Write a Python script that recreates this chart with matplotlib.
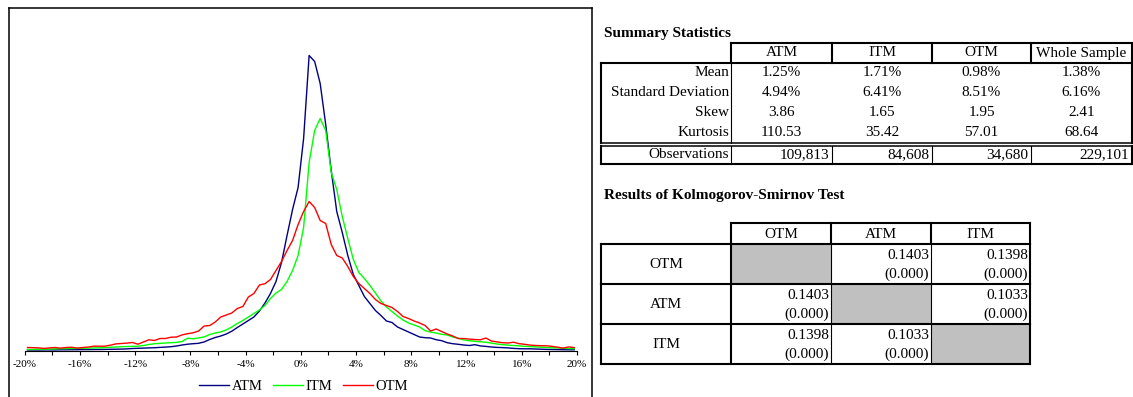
import numpy as np
import matplotlib
matplotlib.use("Agg")
import matplotlib.pyplot as plt
from matplotlib.lines import Line2D
from matplotlib.patches import Rectangle

plt.rcParams['font.family'] = ['Liberation Serif', 'DejaVu Serif']

W, H = 1133, 397

# return bins (bin centres, % return), 0.4% wide
ret_bins = np.round(np.arange(-19.8, 19.81, 0.4), 1)

# relative frequency per bin
atm = [0.5, 0.5, 0.5, 0.6, 0.6, 0.6, 0.7, 0.7, 0.8, 0.8,
       0.9, 0.9, 1.0, 1.0, 1.1, 1.2, 1.3, 1.4, 1.6, 2.0,
       2.2, 2.4, 2.6, 2.8, 3.1, 3.4, 3.8, 4.5, 5.5, 6.3,
       6.8, 7.2, 8.6, 11.0, 13.0, 14.5, 16.5, 19.3, 23.0, 26.5,
       30.0, 33.5, 39.5, 47.5, 57.0, 69.0, 88, 115, 141, 163,
       212, 295, 289, 267, 226, 180, 139, 118, 95, 76,
       65, 54, 47, 40, 35, 29.5, 28, 23.5, 21, 18.5,
       16, 13.5, 12.8, 12.5, 10.8, 9.8, 7.8, 6.8, 6.2, 5.5,
       5.0, 5.8, 4.6, 4.1, 3.5, 3.1, 2.9, 2.6, 2.1, 1.8,
       1.7, 1.7, 1.5, 1.3, 1.1, 1.0, 0.9, 0.8, 0.7, 0.7]
itm = [1.0, 1.1, 1.2, 1.3, 1.4, 1.7, 1.8, 1.9, 2.0, 2.1,
       2.2, 2.4, 2.6, 2.7, 2.9, 3.2, 3.5, 3.8, 4.0, 4.2,
       4.3, 5.0, 6.0, 6.8, 7.1, 7.5, 7.8, 8.1, 9.0, 12.3,
       11.7, 12.6, 13.6, 16.0, 17.5, 18.6, 20.6, 23.5, 27.0, 30.0,
       33.5, 37.0, 40.5, 45.0, 52.0, 57.5, 61.0, 69.0, 80.0, 95.0,
       123, 188, 220, 232, 220, 178, 161, 134, 112, 91,
       78, 72, 65, 57.5, 49.5, 43.5, 39, 34.5, 30.5, 27.5,
       25.5, 23.5, 19.8, 18.5, 17.5, 16.2, 15.5, 13.5, 12.2, 10.6,
       9.8, 9.2, 8.7, 8.3, 7.4, 6.5, 5.8, 5.4, 5.0, 4.6,
       4.2, 3.9, 3.6, 3.3, 3.0, 2.7, 2.5, 2.2, 2.0, 1.8]
otm = [3.0, 2.8, 2.6, 2.1, 2.6, 3.0, 2.4, 3.0, 3.2, 2.4,
       3.0, 3.4, 4.3, 4.3, 4.3, 5.3, 6.6, 7.0, 7.4, 8.0,
       6.3, 8.5, 10.7, 10.0, 12.0, 12.0, 13.3, 13.5, 15.6, 16.8,
       17.7, 19.5, 24.5, 25.0, 28.5, 33.5, 35.5, 37.5, 42.0, 44.0,
       53.5, 57.0, 65.5, 66.8, 71.0, 80.0, 89.0, 100, 110, 126,
       139, 149, 143, 130, 127, 106, 95, 92.5, 84, 74,
       67, 62, 57, 51, 47, 45, 43, 39, 34, 32,
       29.5, 27.5, 25, 19.5, 21.5, 19, 16.5, 14.5, 12, 12,
       11.4, 11, 10.7, 12.5, 9.5, 8.6, 7.8, 7.5, 8.3, 6.8,
       6.2, 5.4, 5.0, 4.8, 4.7, 4.1, 3.3, 2.4, 3.6, 2.9]

xtick_vals = [-20, -16, -12, -8, -4, 0, 4, 8, 12, 16, 20]
xtick_labels = ['-20%', '-16%', '-12%', '-8%', '-4%', '0%', '4%', '8%', '12%', '16%', '20%']

# summary statistics table
stat_cols = ['ATM', 'ITM', 'OTM', 'Whole Sample']
stat_rows = ['Mean', 'Standard Deviation', 'Skew', 'Kurtosis']
stat_vals = [['1.25%', '1.71%', '0.98%', '1.38%'],
             ['4.94%', '6.41%', '8.51%', '6.16%'],
             ['3.86', '1.65', '1.95', '2.41'],
             ['110.53', '35.42', '57.01', '68.64']]
observations = ['109,813', '84,608', '34,680', '229,101']

# Kolmogorov-Smirnov test (statistic, p-value)
ks_groups = ['OTM', 'ATM', 'ITM']
ks_stat = [[None, '0.1403', '0.1398'],
           ['0.1403', None, '0.1033'],
           ['0.1398', '0.1033', None]]
ks_pval = [[None, '(0.000)', '(0.000)'],
           ['(0.000)', None, '(0.000)'],
           ['(0.000)', '(0.000)', None]]


def fx(x):
    return x / W


def fy(y):
    return 1 - y / H


fig = plt.figure(figsize=(W / 100, H / 100), dpi=100)


def hline(x0, x1, y, lw):
    fig.add_artist(Line2D([fx(x0), fx(x1)], [fy(y), fy(y)], transform=fig.transFigure,
                          color='black', lw=lw, solid_capstyle='projecting'))


def vline(x, y0, y1, lw):
    fig.add_artist(Line2D([fx(x), fx(x)], [fy(y0), fy(y1)], transform=fig.transFigure,
                          color='black', lw=lw, solid_capstyle='projecting'))


def txt(x, y, s, ha='center', size=11, weight='normal'):
    fig.text(fx(x), fy(y), s, ha=ha, va='center', fontsize=size, fontweight=weight)


# ---- distribution chart ----
ax = fig.add_axes([fx(24.7), fy(350.5), (577.0 - 24.7) / W, (350.5 - 40) / H])
l1, = ax.plot(ret_bins, atm, color='#000080', lw=1.0)
l2, = ax.plot(ret_bins, itm, color='#00FF00', lw=1.0)
l3, = ax.plot(ret_bins, otm, color='#FF0000', lw=1.0)
ax.set_xlim(-20, 20)
ax.set_ylim(0, 310.5)
ax.set_xticks(xtick_vals)
ax.set_xticklabels(xtick_labels)
ax.set_xticks(np.arange(-18, 20, 4), minor=True)
ax.tick_params(axis='x', which='both', direction='out', length=3, width=0.8,
               pad=3.5, labelsize=8, color='black')
ax.set_yticks([])
for s in ['left', 'right', 'top']:
    ax.spines[s].set_visible(False)
ax.spines['bottom'].set_linewidth(0.8)
ax.patch.set_alpha(0)

fig.legend([l1, l2, l3], ['ATM', 'ITM', 'OTM'], loc='center', ncol=3, frameon=False,
           bbox_to_anchor=(fx(303.5), fy(386.5)), fontsize=10.5, handlelength=2.05,
           handletextpad=0.2, columnspacing=0.7, borderpad=0, borderaxespad=0)

# frame round the chart
hline(8.5, 592, 7.5, 1.1)
vline(8.5, 7.5, 400, 1.1)
vline(592, 7.5, 400, 1.1)

THICK = 1.5
THIN = 0.8

# ---- summary statistics ----
X = [601, 731, 832, 932, 1031, 1132]
txt(604, 33, 'Summary Statistics', ha='left', weight='bold')

hline(731, 1132, 43, THICK)
for x in X[1:]:
    vline(x, 43, 63, THICK)
for j, c in enumerate(stat_cols):
    txt((X[j + 1] + X[j + 2]) / 2, 53, c)

hline(601, 1132, 63, THICK)
vline(601, 63, 143, THICK)
vline(1132, 63, 143, THICK)
vline(731, 63, 143, THIN)
for i, r in enumerate(stat_rows):
    y = 73 + 20 * i
    txt(729, y, r, ha='right')
    for j, v in enumerate(stat_vals[i]):
        txt((X[j + 1] + X[j + 2]) / 2, y, v)
hline(601, 1132, 142.8, 1.1)
hline(601, 1132, 146.2, 1.1)
vline(601, 146, 164, THICK)
vline(1132, 146, 164, THICK)
for x in X[1:-1]:
    vline(x, 146, 164, THIN)
hline(601, 1132, 164, THICK)
txt(729, 155, 'Observations', ha='right')
for j, v in enumerate(observations):
    txt(X[j + 2] - 3, 155, v, ha='right')

# ---- Kolmogorov-Smirnov test ----
KX = [601, 731, 831, 931, 1030]
txt(604, 195, 'Results of Kolmogorov-Smirnov Test', ha='left', weight='bold')

hline(731, 1030, 223, THICK)
for x in KX[1:]:
    vline(x, 223, 244, THICK)
for j, c in enumerate(ks_groups):
    txt((KX[j + 1] + KX[j + 2]) / 2, 234, c)

row_tops = [244, 284, 324]
row_h = 40
hline(601, 1030, 244, THICK)
for i, g in enumerate(ks_groups):
    top = row_tops[i]
    bot = top + row_h
    for j in range(3):
        if ks_stat[i][j] is None:
            fig.add_artist(Rectangle((fx(KX[j + 1]), fy(bot)), (KX[j + 2] - KX[j + 1]) / W,
                                     row_h / H, transform=fig.transFigure,
                                     facecolor='#C0C0C0', edgecolor='none', zorder=0))
        else:
            txt(KX[j + 2] - 2, top + 11.5, ks_stat[i][j], ha='right')
            txt(KX[j + 2] - 2, top + 30.5, ks_pval[i][j], ha='right')
    txt((KX[0] + KX[1]) / 2, top + row_h / 2, g)
    vline(601, top, bot, THICK)
    vline(731, top, bot, THICK)
    vline(831, top, bot, THIN)
    vline(931, top, bot, THIN)
    vline(1030, top, bot, THICK)
    hline(601, 1030, bot, THICK)

fig.savefig('out.png', dpi=100)
